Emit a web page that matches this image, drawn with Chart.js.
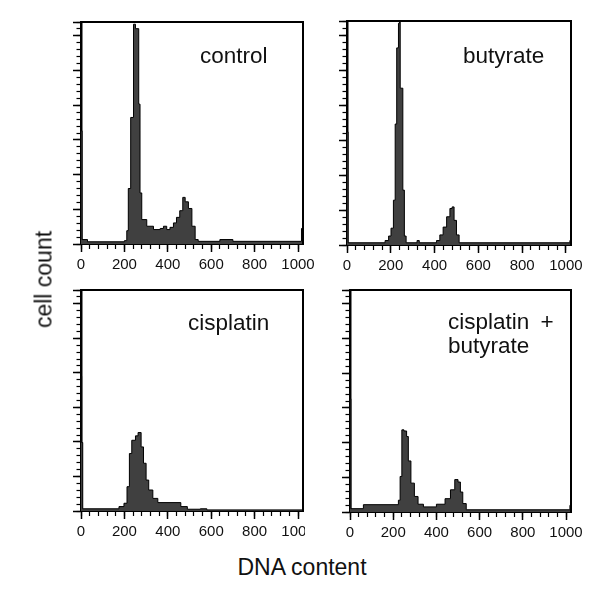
<!DOCTYPE html>
<html>
<head>
<meta charset="utf-8">
<script src="https://cdn.jsdelivr.net/npm/chart.js@4.4.1/dist/chart.umd.min.js"></script>
<style>
  body { margin: 0; background: #fff; }
  #page { position: relative; width: 600px; height: 593px; overflow: hidden; font-family: "Liberation Sans", Arial, sans-serif; color: #111; }
  canvas { position: absolute; }
  .lbl { position: absolute; font-size: 22.5px; line-height: 24px; white-space: nowrap; }
  .clip { position: absolute; overflow: hidden; }
</style>
</head>
<body>
<div id="page">
  <canvas id="c1" width="272" height="267" style="left:51px;top:12px"></canvas>
  <canvas id="c2" width="274" height="269" style="left:317px;top:11px"></canvas>
  <div class="clip" style="left:51px;top:280px;width:254px;height:270px">
    <canvas id="c3" width="272" height="266" style="left:0;top:0"></canvas>
  </div>
  <canvas id="c4" width="271" height="267" style="left:320px;top:280px"></canvas>

  <div class="lbl" style="left:200px;top:44px">control</div>
  <div class="lbl" style="left:463px;top:44px">butyrate</div>
  <div class="lbl" style="left:188px;top:311px">cisplatin</div>
  <div class="lbl" style="left:448px;top:310px;word-spacing:5px">cisplatin +<br>butyrate</div>

  <div style="position:absolute;left:-16px;top:268px;width:120px;text-align:center;font-size:23px;line-height:23px;transform:rotate(-90deg)">cell count</div>
  <div style="position:absolute;left:202px;top:556px;width:200px;text-align:center;font-size:23px;line-height:23px">DNA content</div>
</div>
<script>
// DNA content channel (left edge of each step) and cell count (% of panel height)
const controlX = [0, 5, 30, 200, 211, 218, 229, 242, 251, 266, 272, 280, 303, 334, 365, 380, 395, 410, 426, 440, 455, 469, 480, 495, 511, 526, 540, 640, 700, 1016, 1023];
const controlY = [51, 2, 1, 1.5, 6, 25, 57, 99, 97, 63, 23, 11, 8, 6.5, 7, 8, 6.5, 7.5, 9.5, 12, 15, 21, 19, 16, 8, 2, 1.2, 2, 1.2, 7, 7];

const butyrateX = [0, 5, 174, 190, 201, 212, 220, 227, 235, 240, 243, 255, 262, 270, 320, 330, 409, 424, 439, 455, 470, 480, 489, 500, 512, 1018, 1023];
const butyrateY = [50.5, 1, 2, 4, 7.5, 20, 54, 88, 99, 112, 70, 24.5, 4, 1, 2, 1, 2, 4.5, 8, 12.6, 16.3, 17, 11, 4.5, 1, 2, 2];

const cisplatinX = [0, 3, 8, 175, 198, 212, 223, 234, 251, 263, 277, 288, 300, 312, 331, 354, 460, 490, 550, 580, 1023];
const cisplatinY = [61, 31, 1, 2, 3.5, 11, 26, 32, 34, 35.5, 29, 21.6, 14, 9.5, 5.7, 3.8, 2, 0.8, 1, 0.5, 0.5];

const comboX = [0, 4, 62, 224, 232, 240, 250, 262, 270, 282, 298, 315, 340, 400, 440, 465, 485, 500, 511, 522, 538, 1018, 1023];
const comboY = [51, 1.5, 3.3, 5.3, 16, 37, 36.5, 34, 23, 13, 7, 3.5, 2.3, 3.5, 6, 10, 14.6, 13.5, 9, 3.8, 1, 3, 3];

const xTickValues = [0, 200, 400, 600, 800, 1000];
const xMax = 1023;
const xMinorStep = 40;
const yMax = 100;

const frame = {
  id: 'frame',
  afterDraw(chart) {
    const { ctx, chartArea: a } = chart;
    ctx.save();
    ctx.strokeStyle = '#000';
    ctx.lineWidth = 2;
    ctx.beginPath();
    ctx.moveTo(a.left, a.top);
    ctx.lineTo(a.right, a.top);
    ctx.lineTo(a.right, a.bottom);
    ctx.stroke();
    ctx.restore();
  }
};

function panel(id, xs, ys) {
  new Chart(document.getElementById(id), {
    type: 'line',
    data: {
      datasets: [{
        data: xs.map((x, i) => ({ x: x, y: ys[i] })),
        stepped: 'before',
        fill: 'origin',
        borderColor: '#000',
        borderWidth: 1,
        backgroundColor: '#404040',
        pointRadius: 0
      }]
    },
    options: {
      responsive: false,
      animation: false,
      layout: { padding: { left: 0, top: 10, right: 20, bottom: 0 } },
      plugins: { legend: { display: false }, tooltip: { enabled: false } },
      scales: {
        x: {
          type: 'linear', position: 'bottom', weight: 1, min: 0, max: xMax,
          afterBuildTicks: s => { s.ticks = xTickValues.map(v => ({ value: v })); },
          afterFit: s => { s.height = 35; },
          ticks: {
            autoSkip: false, maxRotation: 0, padding: 4,
            color: '#111', font: { family: 'Liberation Sans', size: 15 },
            callback: v => String(v)
          },
          grid: { drawOnChartArea: false, tickLength: 8, tickWidth: 1.5, color: '#000' },
          border: { width: 2, color: '#000' }
        },
        xMinor: {
          type: 'linear', position: 'bottom', weight: 0, min: 0, max: xMax,
          afterFit: s => { s.height = 0; },
          ticks: { display: false, stepSize: xMinorStep, includeBounds: false },
          grid: { drawOnChartArea: false, tickLength: 5, tickWidth: 1.2, color: '#000' },
          border: { display: false }
        },
        y: {
          position: 'left', weight: 1, min: 0, max: yMax,
          afterFit: s => { s.width = 30; },
          ticks: { display: false, stepSize: yMax / 32 },
          grid: { drawOnChartArea: false, tickLength: 4.5, tickWidth: 1.2, color: '#000' },
          border: { width: 2.5, color: '#000' }
        },
        yMajor: {
          position: 'left', weight: 0, min: 0, max: yMax,
          afterFit: s => { s.width = 0; },
          ticks: { display: false, stepSize: yMax / 6.4 },
          grid: { drawOnChartArea: false, tickLength: 8, tickWidth: 1.5, color: '#000' },
          border: { display: false }
        }
      }
    },
    plugins: [frame]
  });
}

panel('c1', controlX, controlY);
panel('c2', butyrateX, butyrateY);
panel('c3', cisplatinX, cisplatinY);
panel('c4', comboX, comboY);
</script>
</body>
</html>
